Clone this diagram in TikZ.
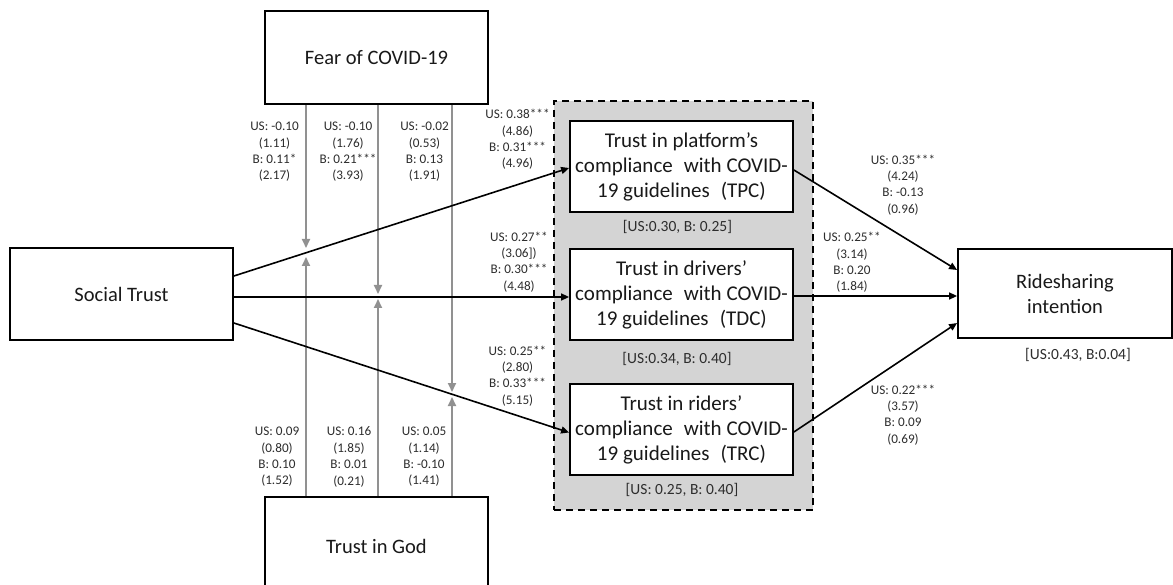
\documentclass[tikz,border=0pt]{standalone}
\usepackage{fontspec}
\setmainfont{Carlito}
\usetikzlibrary{arrows.meta}
\definecolor{txt}{RGB}{25,25,25}
\definecolor{lblc}{RGB}{45,45,45}
\definecolor{modgray}{RGB}{145,145,145}
\definecolor{panel}{RGB}{212,212,212}
\tikzset{
  box/.style={draw=black, line width=1.8pt, fill=white, inner sep=2pt, align=center, text=txt, font=\fontsize{20.5}{25}\selectfont},
  tbox/.style={font=\fontsize{21}{25}\selectfont},
  lbl/.style={align=center, text=lblc, font=\fontsize{13.2}{16.4}\selectfont, inner sep=0pt},
  rsq/.style={text=lblc, font=\fontsize{15.5}{18}\selectfont, inner sep=0pt},
  arr/.style={draw=black, line width=1.6pt, -{Triangle[length=8pt,width=7pt]}},
  mod/.style={draw=modgray, line width=1.8pt, -{Triangle[length=9pt,width=8pt]}},
  grpbox/.style={draw=black, line width=1.5pt, dash pattern=on 7pt off 5pt, fill=panel},
}
\begin{document}
\begin{tikzpicture}[x=1pt,y=-1pt]
\useasboundingbox (0,0) rectangle (1173,585);
\fill[white] (0,0) rectangle (1173,585);

% grouping panel
\node[grpbox, minimum width=259pt, minimum height=409pt] (grp) at (683.5,305.5) {};

% boxes
\node[box, minimum width=223pt, minimum height=93pt] (fear) at (376.5,57.5) {Fear of COVID-19};
\node[box, minimum width=223pt, minimum height=98pt] (god) at (376.5,546) {Trust in God};
\node[box, minimum width=223pt, minimum height=92pt] (social) at (121.5,294) {Social Trust};
\node[box, tbox, minimum width=223pt, minimum height=91pt] (tpc) at (681.5,166.5) {Trust in platform’s\\compliance\hspace{0.3em} with COVID-\\19 guidelines\hspace{0.3em} (TPC)};
\node[box, tbox, minimum width=223pt, minimum height=91pt] (tdc) at (681.5,294.5) {Trust in drivers’\\compliance\hspace{0.3em} with COVID-\\19 guidelines\hspace{0.3em} (TDC)};
\node[box, tbox, minimum width=223pt, minimum height=91pt] (trc) at (681.5,429.5) {Trust in riders’\\compliance\hspace{0.3em} with COVID-\\19 guidelines\hspace{0.3em} (TRC)};
\node[box, minimum width=214pt, minimum height=89pt] (ride) at (1065,293.5) {Ridesharing\\intention};

% moderator end points
\coordinate (f1) at (306,248);
\coordinate (f2) at (378,294);
\coordinate (f3) at (452,392);
\coordinate (g1) at (306,257);
\coordinate (g2) at (378,299);
\coordinate (g3) at (452,397);

\draw[mod] (fear.south -| f1) -- (f1);
\draw[mod] (fear.south -| f2) -- (f2);
\draw[mod] (fear.south -| f3) -- (f3);
\draw[mod] (god.north -| g1) -- (g1);
\draw[mod] (god.north -| g2) -- (g2);
\draw[mod] (god.north -| g3) -- (g3);

% main paths
\draw[arr] ([yshift=18pt]social.east) -- ([yshift=-1.5pt]tpc.west);
\draw[arr] ([yshift=-3pt]social.east) -- ([yshift=-2.5pt]tdc.west);
\draw[arr] ([yshift=-29pt]social.east) -- ([yshift=-3pt]trc.west);
\draw[arr] ([yshift=-3.5pt]tpc.east) -- ([yshift=23.5pt]ride.west);
\draw[arr] ([yshift=-1.5pt]tdc.east) -- ([yshift=-2.5pt]ride.west);
\draw[arr] ([yshift=-2.5pt]trc.east) -- ([yshift=-29.5pt]ride.west);

% coefficient labels
\node[lbl] (lf1) at (274.5,152) {US: -0.10\\(1.11)\\B: 0.11*\\(2.17)};
\node[lbl] (lf2) at (348,152) {US: -0.10\\(1.76)\\B: 0.21***\\(3.93)};
\node[lbl] (lf3) at (424.5,152) {US: -0.02\\(0.53)\\B: 0.13\\(1.91)};
\node[lbl] (lg1) at (277,457) {US: 0.09\\(0.80)\\B: 0.10\\(1.52)};
\node[lbl] (lg2) at (349,457) {US: 0.16\\(1.85)\\B: 0.01\\(0.21)};
\node[lbl] (lg3) at (424,457) {US: 0.05\\(1.14)\\B: -0.10\\(1.41)};
\node[lbl] (la1) at (517.5,139.5) {US: 0.38***\\(4.86)\\B: 0.31***\\(4.96)};
\node[lbl] (la2) at (519,262) {US: 0.27**\\(3.06])\\B: 0.30***\\(4.48)};
\node[lbl] (la3) at (517.5,376) {US: 0.25**\\(2.80)\\B: 0.33***\\(5.15)};
\node[lbl] (lb1) at (903,185) {US: 0.35***\\(4.24)\\B: -0.13\\(0.96)};
\node[lbl] (lb2) at (852,262.5) {US: 0.25**\\(3.14)\\B: 0.20\\(1.84)};
\node[lbl] (lb3) at (903,415) {US: 0.22***\\(3.57)\\B: 0.09\\(0.69)};

% R-squared labels
\node[rsq] (r1) at (677.5,226.5) {[US:0.30, B: 0.25]};
\node[rsq] (r2) at (677,359) {[US:0.34, B: 0.40]};
\node[rsq] (r3) at (682,489.5) {[US: 0.25, B: 0.40]};
\node[rsq] (r4) at (1078,355) {[US:0.43, B:0.04]};
\end{tikzpicture}
\end{document}
